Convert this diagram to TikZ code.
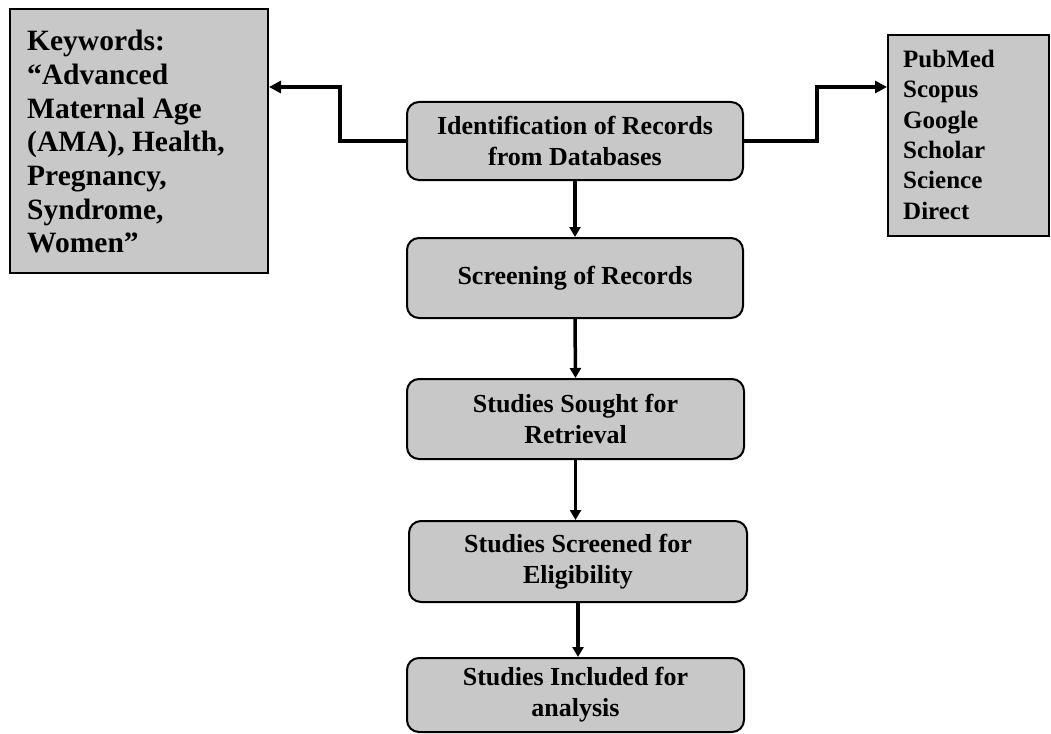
\documentclass[tikz,border=0pt]{standalone}
\usepackage{fontspec}
\setmainfont{Liberation Serif}
\usetikzlibrary{arrows.meta}
\definecolor{boxgray}{RGB}{200,200,200}
\begin{document}
\begin{tikzpicture}[x=1pt,y=-1pt,
  stage/.style={draw=black, line width=2pt, fill=boxgray, rounded corners=12pt,
    align=center, font=\fontsize{26}{31}\selectfont\bfseries, inner sep=0pt},
  sidebox/.style={draw=black, line width=2pt, fill=boxgray, align=left, inner sep=0pt},
  flow/.style={line width=3.5pt, -{Triangle[width=11pt,length=10pt]}},
  elbow/.style={line width=4.5pt, -{Triangle[width=12pt,length=12pt]}}]
\useasboundingbox (0,0) rectangle (1051,733);

% central sequence of stages
\node[stage, minimum width=336pt, minimum height=78pt] (id) at (575,141)
  {Identification of Records\\from Databases};
\node[stage, minimum width=336pt, minimum height=80pt] (scr) at (575,278)
  {Screening of Records};
\node[stage, minimum width=337pt, minimum height=80pt] (sought) at (575.5,419)
  {Studies Sought for\\Retrieval};
\node[stage, minimum width=338pt, minimum height=81pt] (elig) at (578,561.5)
  {Studies Screened for\\Eligibility};
\node[stage, minimum width=337pt, minimum height=74pt] (incl) at (575.5,695)
  {Studies Included for\\analysis};

% side boxes: search keywords and databases
\node[sidebox, minimum width=258pt, minimum height=264pt] (kw) at (139,141) {};
\node[anchor=north west, inner sep=0pt, align=left,
  font=\fontsize{29.5}{33.7}\selectfont\bfseries] (kwtext) at (27,30)
  {Keywords:\\``Advanced\\Maternal Age\\(AMA), Health,\\Pregnancy,\\Syndrome,\\Women''};
\node[sidebox, minimum width=161pt, minimum height=201pt] (db) at (968.5,135.5) {};
\node[anchor=north west, inner sep=0pt, align=left,
  font=\fontsize{25}{30.3}\selectfont\bfseries] (dbtext) at (903,50)
  {PubMed\\Scopus\\Google\\Scholar\\Science\\Direct};

% connectors
\coordinate (lbend) at (340,87);
\coordinate (rbend) at (817,87);
\draw[elbow] (id.west) -| (lbend) -- (lbend -| kw.east);
\draw[elbow] (id.east) -| (rbend) -- (rbend -| db.west);
\draw[flow] (id.south) -- (scr.north);
\draw[flow] (scr.south) -- (sought.north);
\draw[flow] (sought.south) -- (sought.south |- elig.north);
\draw[flow] (elig.south) -- (elig.south |- incl.north);
\end{tikzpicture}
\end{document}
